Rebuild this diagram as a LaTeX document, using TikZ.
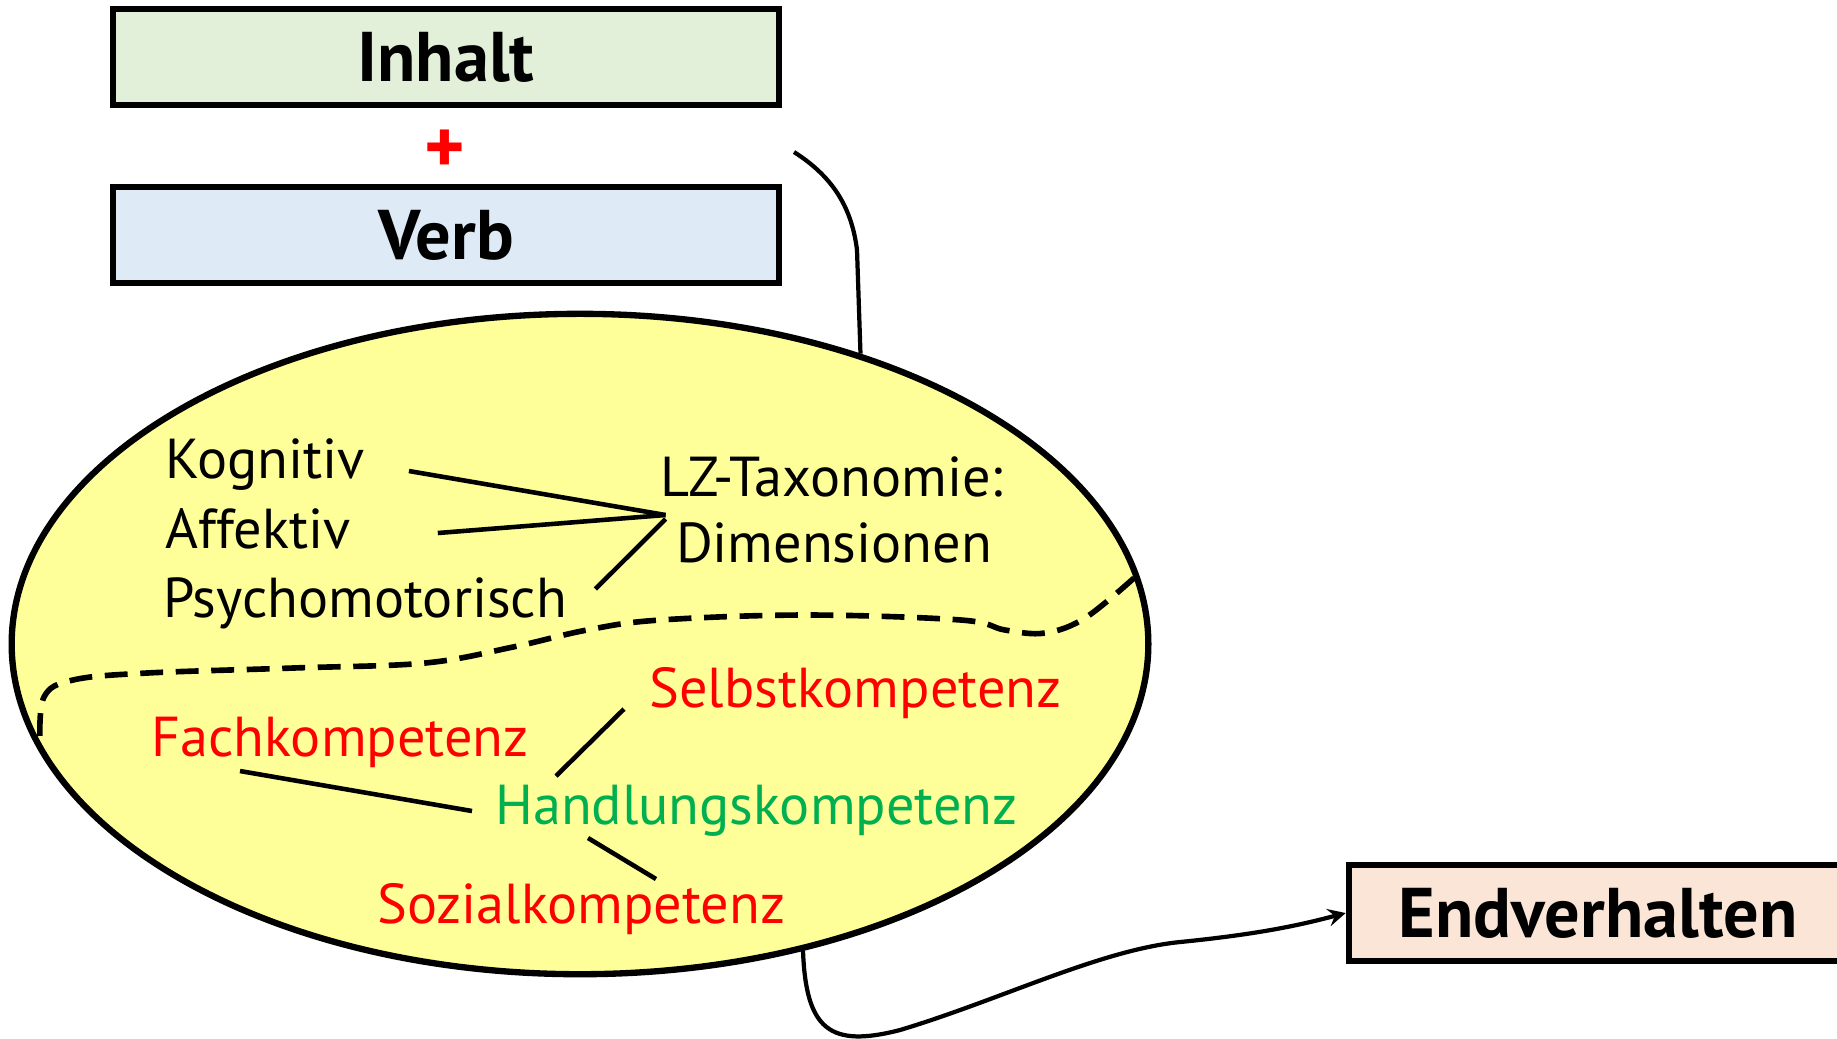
\documentclass[tikz,border=0pt]{standalone}
\usepackage{fontspec}
\setmainfont{PT Sans}
\usetikzlibrary{shapes.geometric,arrows}
\definecolor{inhaltgreen}{RGB}{226,240,217}
\definecolor{verbblue}{RGB}{222,235,247}
\definecolor{endpeach}{RGB}{251,229,214}
\definecolor{ellyellow}{RGB}{255,255,153}
\definecolor{kgreen}{RGB}{0,176,80}

\begin{document}
\begin{tikzpicture}[x=0.01cm,y=-0.01cm,>=stealth,thick,
  box/.style={draw,line width=1.8pt,minimum width=6.66cm,minimum height=0.96cm,inner sep=0pt,font=\fontsize{20}{24}\selectfont\bfseries},
  word/.style={anchor=base west,inner sep=0pt,font=\fontsize{16}{19}\selectfont},
  kompetenz/.style={word,text=red},
  link/.style={line width=1.3pt},
  curve/.style={line width=1.2pt}]
  \useasboundingbox (0,0) rectangle (1837,1038);
  \node[box,fill=inhaltgreen] (inhalt) at (446,57) {Inhalt};
  \node[text=red,font=\fontsize{22}{26}\selectfont\bfseries] (plus) at (445,152) {+};
  \node[box,fill=verbblue] (verb) at (446,235) {Verb};
  \node[box,fill=endpeach,minimum width=4.98cm] (endv) at (1598,913) {Endverhalten};
  \node[draw,ellipse,line width=1.8pt,fill=ellyellow,minimum width=11.36cm,minimum height=6.6cm] (ell) at (580,644) {};

  \node[word] (kog) at (164,478) {Kognitiv};
  \node[word] (aff) at (164,548) {Affektiv};
  \node[word] (psy) at (162,617) {Psychomotorisch};
  \node[word,anchor=base] (lz) at (832,496) {LZ-Taxonomie:};
  \node[word,anchor=base] (dim) at (834,562) {Dimensionen};
  \coordinate (hub) at ([shift={(6,19)}]lz.base west);
  \draw[link] ([shift={(43,-7)}]kog.base east) -- (hub);
  \draw[link] ([shift={(86,-15)}]aff.base east) -- (hub);
  \draw[link] ([shift={(27,-28)}]psy.base east) -- ([shift={(0,4)}]hub);

  \draw[link,line width=1.6pt,dash pattern=on 6.5pt off 3.6pt] plot[smooth,tension=0.6] coordinates {(1134,578) (1085,618) (1045,633) (1005,630) (961,620) (807,615) (660,620) (587,630) (513,647) (425,663) (293,668) (147,673) (73,680) (44,697) (40,742)};

  \node[kompetenz] (selbst) at (648,707) {Selbstkompetenz};
  \node[kompetenz] (fach) at (150,756) {Fachkompetenz};
  \node[word,text=kgreen] (hand) at (494,824) {Handlungskompetenz};
  \node[kompetenz] (sozial) at (376,923) {Sozialkompetenz};
  \draw[link] ([shift={(-24,2)}]selbst.base west) -- ([shift={(62,-48)}]hand.base west);
  \draw[link] ([shift={(90,15)}]fach.base west) -- ([shift={(-22,-13)}]hand.base west);
  \draw[link] ([shift={(94,14)}]hand.base west) -- ([shift={(280,-44)}]sozial.base west);

  \coordinate (loose) at (794,152);
  \draw[curve] (loose) .. controls (835,178) and (852,210) .. (857,250) -- (ell.46);
  \draw[curve,->] (ell.-54) .. controls (806,1030) and (830,1048) .. (900,1030) .. controls (1000,1000) and (1100,950) .. (1180,942) .. controls (1260,934) and (1300,925) .. (endv.west);
\end{tikzpicture}
\end{document}
